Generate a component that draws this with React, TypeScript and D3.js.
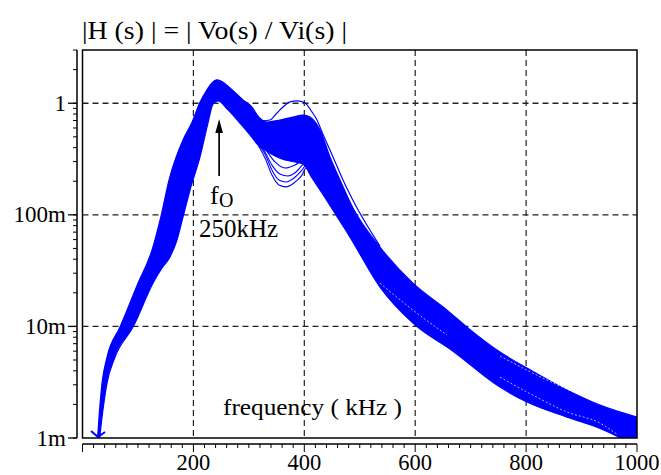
import React from "react";
import * as d3 from "d3";

type Pt = [number, number];

// frequency (kHz), |H| — upper edge of the family of curves
const upperEnvelope: Pt[] = [
  [26.5, 0.00092], [27.1, 0.001], [29.8, 0.00154], [35.2, 0.0031], [44.2, 0.0053],
  [67.6, 0.00986], [100.1, 0.0244], [125.3, 0.0483], [141.6, 0.0975], [156.0, 0.205],
  [181.2, 0.469], [196.9, 0.665], [211.9, 1.02], [224.5, 1.32], [233.5, 1.52],
  [242.6, 1.62], [249.8, 1.58], [266.0, 1.37], [289.4, 1.07], [305.7, 0.925],
  [316.5, 0.768], [332.7, 0.678], [356.2, 0.708], [379.6, 0.752], [397.7, 0.783],
  [410.3, 0.752], [428.3, 0.576], [446.3, 0.33], [464.4, 0.205], [487.8, 0.115],
  [536.5, 0.0514], [596.0, 0.0244], [657.4, 0.014], [693.4, 0.00986], [752.9, 0.00589],
  [801.6, 0.00423], [873.8, 0.00269], [933.3, 0.00197], [1000, 0.00154],
];

// lower edge of the dense band
const lowerEnvelope: Pt[] = [
  [28.9, 0.00092], [30.7, 0.001], [35.2, 0.00154], [44.2, 0.0031], [58.6, 0.0053],
  [91.1, 0.00986], [127.1, 0.0244], [143.4, 0.0334], [157.8, 0.042], [170.4, 0.0595],
  [181.2, 0.0952], [193.9, 0.167], [211.9, 0.33], [226.3, 0.664], [235.3, 0.984],
  [244.4, 1.05], [262.4, 0.871], [284.0, 0.664], [302.1, 0.52], [316.5, 0.423],
  [329.1, 0.381], [347.2, 0.337], [365.2, 0.31], [383.2, 0.298], [397.7, 0.286],
  [413.9, 0.214], [431.9, 0.157], [451.8, 0.11], [482.4, 0.0632], [536.5, 0.0225],
  [596.0, 0.0107], [668.2, 0.006], [752.9, 0.00286], [801.6, 0.0021], [873.8, 0.00154],
  [933.3, 0.00122], [1000, 0.00084],
];

// single curve with the high second resonance
const humpCurve: Pt[] = [
  [323.7, 0.694], [338.1, 0.708], [350.8, 0.818], [361.6, 0.925], [374.2, 1.03],
  [386.8, 1.05], [401.3, 1.006], [413.9, 0.835], [422.9, 0.708], [431.9, 0.553],
  [451.8, 0.33], [469.8, 0.205], [495.1, 0.115], [536.5, 0.0525],
];

// curves with the deepest notch
const dipCurve1: Pt[] = [
  [316.5, 0.423], [329.1, 0.323], [341.7, 0.227], [354.3, 0.185], [366.9, 0.178],
  [381.4, 0.193], [395.8, 0.227], [403.1, 0.263], [413.9, 0.263], [428.3, 0.205], [451.8, 0.122],
];
const dipCurve2: Pt[] = [
  [316.5, 0.43], [329.1, 0.351], [341.7, 0.252], [354.3, 0.205], [366.9, 0.197],
  [381.4, 0.214], [395.8, 0.252], [410.3, 0.31], [421.1, 0.298], [437.3, 0.205],
];
const dipCurve3: Pt[] = [
  [318, 0.44], [329.1, 0.365], [341.7, 0.279], [356.2, 0.232], [370.5, 0.223],
  [385, 0.242], [399.4, 0.291], [412.1, 0.343], [424.7, 0.31], [442.7, 0.205],
];
const dipCurve4: Pt[] = [
  [320, 0.45], [330.9, 0.381], [347.2, 0.298], [365.2, 0.263], [383.2, 0.28],
  [401.3, 0.323], [413.9, 0.366], [426, 0.33], [445, 0.22],
];

// thin gaps seen between traces in the tail
const gapTrace1: Pt[] = [[752.9, 0.00351], [812.4, 0.00242], [873.8, 0.00171], [933.3, 0.00136], [964, 0.00108]];
const gapTrace2: Pt[] = [[536.5, 0.0244], [596, 0.014], [657.4, 0.00836]];
const gapTrace3: Pt[] = [[752.9, 0.00542], [830.5, 0.00344], [909.8, 0.00228]];

const xTickValues = [200, 400, 600, 800, 1000];
const xGridValues = [200, 400, 600, 800];
const yTickValues = [1, 0.1, 0.01, 0.001];
const yTickLabels = ["1", "100m", "10m", "1m"];
const yGridValues = [1, 0.1, 0.01];
const titleText = "|H (s) | = | Vo(s) / Vi(s) |";
const xAxisTitle = "frequency ( kHz )";
const markerFreq = 250; // kHz annotated
const offScaleFreq = 28; // kHz where trace leaves the bottom

const W = 661;
const H = 475;
const L = 82.5;
const R = 637;
const T = 50;
const B = 438;
const BLUE = "#0000ff";
const FONT = "'Liberation Serif', 'Times New Roman', serif";

export default function App() {
  const x = d3.scaleLinear().domain([0, 1000]).range([L, R]);
  const y = d3.scaleLog().domain([0.001, 3]).range([B, T]);
  const line = d3
    .line<Pt>()
    .x((d) => x(d[0]))
    .y((d) => y(d[1]))
    .curve(d3.curveMonotoneX);

  const upPath = line(upperEnvelope) || "";
  const lowRev = line([...lowerEnvelope].reverse()) || "";
  const bandPath = upPath + "L" + lowRev.slice(1) + "Z";

  const yMinor = y.ticks();
  const xMinor = d3.range(0, 1001, 20);
  const yAxisX = 77;
  const xAxisY = 444;

  const ax = x(markerFreq) - 2;
  const mx = x(offScaleFreq);
  const my = y(0.001);

  return (
    <svg
      width={W}
      height={H}
      style={{ position: "absolute", left: 0, top: 0, background: "#fff" }}
      fontFamily={FONT}
    >
      <defs>
        <clipPath id="plotClip">
          <rect x={L} y={T} width={R - L} height={B - T} />
        </clipPath>
      </defs>
      <rect x={0} y={0} width={W} height={H} fill="#fff" />

      {/* grid */}
      {xGridValues.map((v) => (
        <line key={"gx" + v} x1={x(v)} x2={x(v)} y1={T} y2={B} stroke="#222" strokeWidth={1.2} strokeDasharray="6,4" />
      ))}
      {yGridValues.map((v) => (
        <line key={"gy" + v} x1={L} x2={R} y1={y(v)} y2={y(v)} stroke="#222" strokeWidth={1.3} strokeDasharray="6,4" />
      ))}

      {/* traces */}
      <g clipPath="url(#plotClip)">
        <path d={bandPath} fill={BLUE} stroke={BLUE} strokeWidth={1.2} strokeLinejoin="round" />
        {[dipCurve1, dipCurve2, dipCurve3, dipCurve4].map((c, i) => (
          <path key={"dip" + i} d={line(c) || ""} fill="none" stroke={BLUE} strokeWidth={1.1} />
        ))}
        <path d={line(humpCurve) || ""} fill="none" stroke={BLUE} strokeWidth={1.2} />
        {[gapTrace1, gapTrace2, gapTrace3].map((c, i) => (
          <path key={"gap" + i} d={line(c) || ""} fill="none" stroke="#fff" strokeWidth={0.8} strokeDasharray="2,2" opacity={0.85} />
        ))}
      </g>
      <path
        d={`M${mx - 7},${my - 7} L${mx},${my - 1} L${mx + 7},${my - 6}`}
        fill="none"
        stroke={BLUE}
        strokeWidth={2}
      />

      {/* frame */}
      <rect x={L} y={T} width={R - L} height={B - T} fill="none" stroke="#000" strokeWidth={1.5} />

      {/* y axis */}
      <line x1={yAxisX} x2={yAxisX} y1={T} y2={B} stroke="#000" strokeWidth={1.5} />
      {yMinor.map((v, i) => (
        <line key={"ym" + i} x1={yAxisX - 4} x2={yAxisX} y1={y(v)} y2={y(v)} stroke="#000" strokeWidth={1} />
      ))}
      {yTickValues.map((v, i) => (
        <g key={"yt" + i}>
          <line x1={yAxisX - 9} x2={yAxisX} y1={y(v)} y2={y(v)} stroke="#000" strokeWidth={1.3} />
          <text x={66} y={y(v) + 7.5} textAnchor="end" fontSize={23} fill="#000">
            {yTickLabels[i]}
          </text>
        </g>
      ))}

      {/* x axis */}
      <line x1={L} x2={R} y1={xAxisY} y2={xAxisY} stroke="#000" strokeWidth={1.5} />
      {xMinor.map((v) => (
        <line key={"xm" + v} x1={x(v)} x2={x(v)} y1={xAxisY} y2={xAxisY + (v % 200 === 0 ? 8 : 4)} stroke="#000" strokeWidth={1} />
      ))}
      {xTickValues.map((v) => (
        <text key={"xt" + v} x={x(v)} y={470} textAnchor="middle" fontSize={22.5} fill="#000">
          {v}
        </text>
      ))}

      {/* titles */}
      <text x={82} y={38.5} fontSize={25} textLength={265} lengthAdjust="spacingAndGlyphs" fill="#000">
        {titleText}
      </text>
      <text x={223} y={415} fontSize={24} textLength={179} lengthAdjust="spacingAndGlyphs" fill="#000">
        {xAxisTitle}
      </text>

      {/* f0 annotation */}
      <line x1={ax} x2={ax} y1={176} y2={130} stroke="#000" strokeWidth={1.7} />
      <path d={`M${ax},${119} L${ax - 3.8},${133} L${ax + 3.8},${133} Z`} fill="#000" />
      <text x={210} y={204} fontSize={26} fill="#000">f</text>
      <text x={219} y={207} fontSize={20} fill="#000">O</text>
      <text x={199} y={237} fontSize={25} textLength={79} lengthAdjust="spacingAndGlyphs" fill="#000">
        {markerFreq}kHz
      </text>
    </svg>
  );
}
